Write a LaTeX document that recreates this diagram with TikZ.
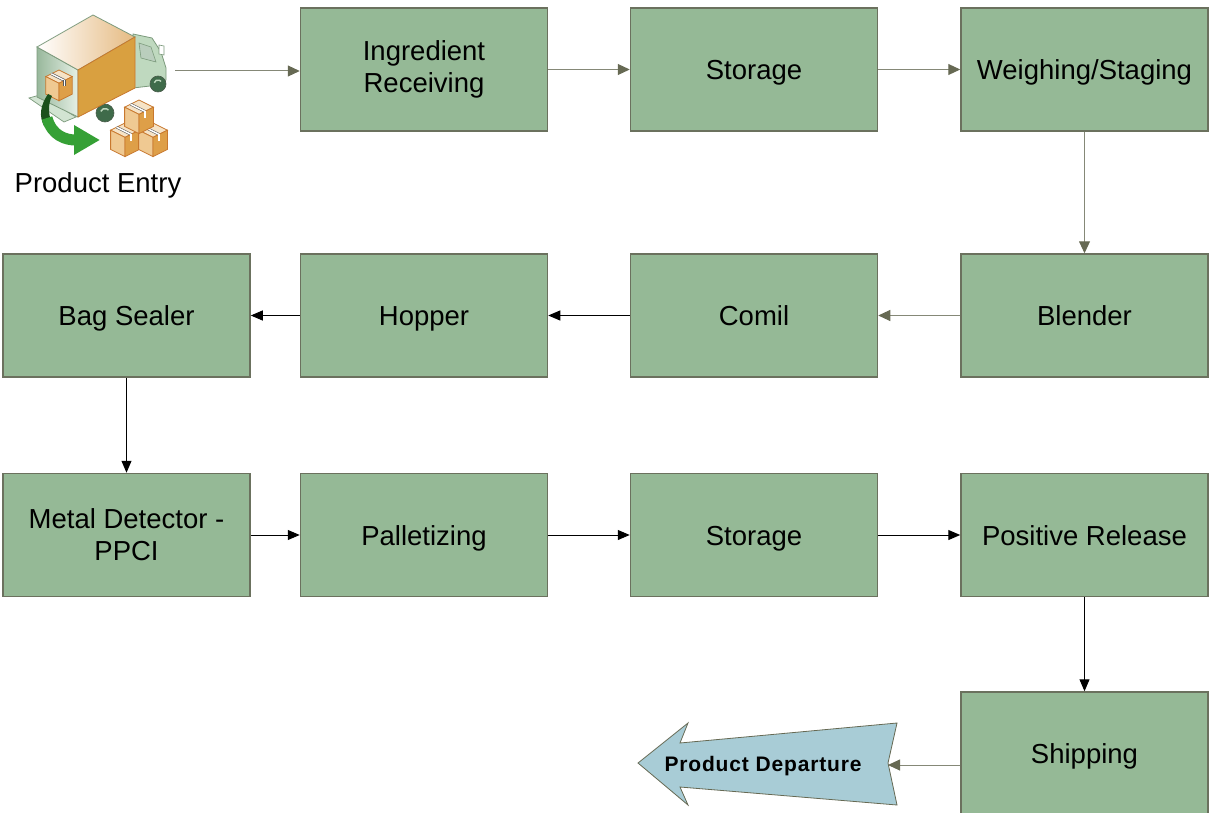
\documentclass[tikz,border=0pt]{standalone}
\usepackage{fontspec}
\setmainfont{Liberation Sans}
\usetikzlibrary{arrows.meta}
\definecolor{boxfill}{HTML}{95B996}
\definecolor{boxline}{HTML}{6B715E}
\definecolor{grayarrow}{HTML}{858877}
\definecolor{grayhead}{HTML}{666953}
\definecolor{departfill}{HTML}{A8CCD6}
\definecolor{tanlight}{HTML}{F6E3C6}
\definecolor{tanmid}{HTML}{EFC992}
\definecolor{tandark}{HTML}{DE9F48}
\definecolor{tanedge}{HTML}{C8782E}
\definecolor{cargo}{HTML}{D9A040}
\definecolor{cabfill}{HTML}{BFD9BF}
\definecolor{cabedge}{HTML}{7C9A7C}
\definecolor{wheel}{HTML}{3F6B4A}
\definecolor{arrowgreen}{HTML}{35A035}
\begin{document}
\begin{tikzpicture}[x=1pt,y=-1pt,
  stepbox/.style={draw=boxline, line width=1.5pt, fill=boxfill, minimum width=247pt,
    minimum height=123pt, inner sep=0pt, align=center, font=\fontsize{27.5}{32}\selectfont},
  oneline/.style={text height=20pt, text depth=0pt},
  grayflow/.style={draw=grayarrow, line width=1pt, -{Triangle[length=12pt,width=11pt,fill=grayhead,color=grayhead]}},
  blackflow/.style={draw=black, line width=1pt, -{Triangle[length=12pt,width=10pt]}},
  cubepic/.pic={
    \filldraw[fill=tanlight, draw=tanedge, line width=0.8pt] (0,0) -- (12,6) -- (0,12) -- (-12,6) -- cycle;
    \filldraw[fill=tanmid, draw=tanedge, line width=0.8pt] (-12,6) -- (0,12) -- (0,28) -- (-12,22) -- cycle;
    \filldraw[fill=tandark, draw=tanedge, line width=0.8pt] (0,12) -- (12,6) -- (12,22) -- (0,28) -- cycle;
    \draw[gray!70!black, line width=2.6pt] (-7,3.5) -- (5,9.5);
    \draw[white, line width=1.4pt] (-7,3.5) -- (5,9.5);
    \draw[gray!70!black, line width=2.6pt] (5,9.5) -- (5,15);
    \draw[white, line width=1.4pt] (5,9.5) -- (5,15);
  }]
\useasboundingbox (0,0) rectangle (1209,813);

% ---------- truck icon ----------
% ramp
\filldraw[fill=cabfill!70!white, draw=cabedge, line width=0.7pt] (29,98) -- (40,95) -- (76,117) -- (64,122) -- cycle;
% cab
\filldraw[fill=cabfill, draw=cabedge, line width=0.8pt] (133,34) -- (152,38) -- (161,52) -- (166,68) -- (166,80) -- (150,86) -- (133,88) -- cycle;
\filldraw[fill=cabfill!60!wheel!60!white, draw=cabedge, line width=0.6pt] (139,43) -- (151,47) -- (156,62) -- (141,58) -- cycle;
\filldraw[fill=white, draw=cabedge, line width=0.6pt] (159,45) -- (164,46) -- (164,55) -- (159,54) -- cycle;
% wheels
\filldraw[fill=wheel, draw=cabedge!60!black, line width=0.6pt] (158,84) circle[radius=8];
\draw[cabfill, line width=1.4pt] (158,84) ++(200:4) arc[start angle=200, end angle=320, radius=4];
\filldraw[fill=wheel, draw=cabedge!60!black, line width=0.6pt] (105,113) circle[radius=9];
\draw[cabfill, line width=1.4pt] (105,113) ++(200:4.5) arc[start angle=200, end angle=320, radius=4.5];
% cargo box
\shade[left color=cabfill!70!wheel, right color=cabfill!40!white] (37,47) -- (78,70) -- (78,117) -- (37,97) -- cycle;
\draw[cabedge, line width=0.8pt] (37,47) -- (78,70) -- (78,117) -- (37,97) -- cycle;
\shade[left color=white, right color=tanmid!80!brown] (37,47) -- (93,15) -- (135,37) -- (78,70) -- cycle;
\draw[cabedge, line width=0.8pt] (37,47) -- (93,15) -- (135,37) -- (78,70) -- cycle;
\filldraw[fill=cargo, draw=tanedge, line width=0.8pt] (78,70) -- (135,37) -- (135,88) -- (78,117) -- cycle;
% box in truck
\pic[scale=1.1] at (59,70) {cubepic};
% green arrow
\fill[arrowgreen!50!black] (48,94) .. controls (40,106) and (39,116) .. (44,126) -- (52,123) .. controls (48,114) and (48,104) .. (52,96) -- cycle;
\draw[arrowgreen, line width=11pt, -{Triangle[length=26pt,width=28pt]}] (47,118) .. controls (52,136) and (66,140) .. (100,140);
% stacked boxes
\pic[scale=1.2] at (125,123) {cubepic};
\pic[scale=1.2] at (153,123) {cubepic};
\pic[scale=1.2] at (139,100) {cubepic};

\node[font=\fontsize{27.5}{32}\selectfont, inner sep=0pt, oneline] (entrylabel) at (98,183) {Product Entry};
\coordinate (truckout) at (175,71);

% ---------- process boxes ----------
\node[stepbox] (ing)   at (424,69.5)    {Ingredient\\Receiving};
\node[stepbox, oneline] (stor1) at (754,69.5)    {Storage};
\node[stepbox, oneline] (weigh) at (1084.5,69.5) {Weighing/Staging};
\node[stepbox, oneline] (blend) at (1084.5,315.5) {Blender};
\node[stepbox, oneline] (comil) at (754,315.5)   {Comil};
\node[stepbox, oneline] (hop)   at (424,315.5)   {Hopper};
\node[stepbox, oneline] (bag)   at (126.5,315.5) {Bag Sealer};
\node[stepbox] (metal) at (126.5,535)   {Metal Detector -\\PPCI};
\node[stepbox, oneline] (pal)   at (424,535)     {Palletizing};
\node[stepbox, oneline] (stor2) at (754,535)     {Storage};
\node[stepbox, oneline] (pos)   at (1084.5,535)  {Positive Release};
\node[stepbox, oneline] (ship)  at (1084.5,753.5) {Shipping};

% ---------- departure arrow ----------
\filldraw[fill=departfill, draw=grayhead, line width=0.8pt]
  (638,763) -- (688,723) -- (680,743) -- (897,723) -- (888,763) -- (897,805) -- (680,787) -- (688,805) -- cycle;
\node[font=\fontsize{21}{24}\selectfont\bfseries\addfontfeatures{LetterSpace=4.0}, inner sep=0pt, text height=15pt, text depth=0pt] (dep) at (763,764) {Product Departure};
\coordinate (depin) at (888,765);

% ---------- connectors ----------
\draw[grayflow] (truckout) -- (truckout -| ing.west);
\draw[grayflow] (ing) -- (stor1);
\draw[grayflow] (stor1) -- (weigh);
\draw[grayflow] (weigh) -- (blend);
\draw[grayflow] (blend) -- (comil);
\draw[blackflow] (comil) -- (hop);
\draw[blackflow] (hop) -- (bag);
\draw[blackflow] (bag) -- (metal);
\draw[blackflow] (metal) -- (pal);
\draw[blackflow] (pal) -- (stor2);
\draw[blackflow] (stor2) -- (pos);
\draw[blackflow] (pos) -- (ship);
\draw[grayflow] (depin -| ship.west) -- (depin);
\end{tikzpicture}
\end{document}
